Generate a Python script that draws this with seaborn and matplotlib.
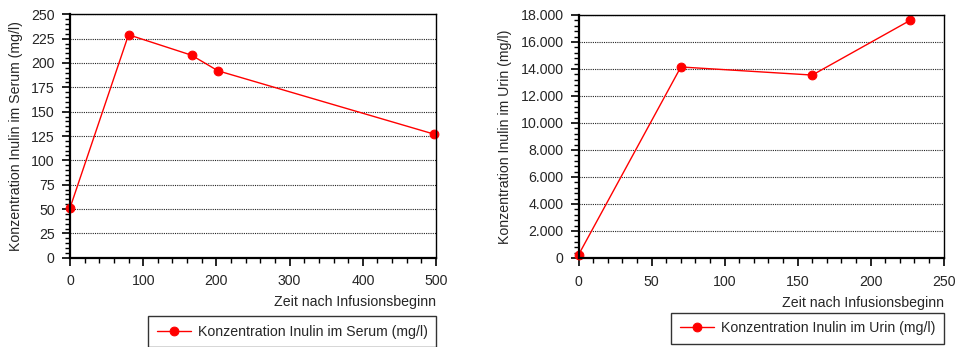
import numpy as np
import pandas as pd
import matplotlib
matplotlib.use("Agg")
import matplotlib.pyplot as plt
import matplotlib.ticker as mticker
import seaborn as sns

# serum data
serum_zeit = [0, 80, 166, 202, 497]
serum_konz = [51, 229, 208, 192, 127]
# urine data
urin_zeit = [0, 70, 160, 227]
urin_konz = [250, 14150, 13550, 17600]

serum_label = "Konzentration Inulin im Serum (mg/l)"
urin_label = "Konzentration Inulin im Urin (mg/l)"
xlabel = "Zeit nach Infusionsbeginn"

sns.set_style("white")
plt.rcParams['font.family'] = ['Liberation Sans', 'DejaVu Sans']
FS = 10.2
plt.rcParams['font.size'] = FS

fig = plt.figure(figsize=(9.56, 3.47), dpi=100)
ax1 = fig.add_axes([0.0732, 0.2573, 0.3829, 0.7015])
ax2 = fig.add_axes([0.6053, 0.2565, 0.3818, 0.7003])

df1 = pd.DataFrame({"x": serum_zeit, "y": serum_konz})
df2 = pd.DataFrame({"x": urin_zeit, "y": urin_konz})

def style(ax, xmax, xmaj, xmin, ymax, ymaj, ymin, fmt, ylab, leg_top):
    ax.set_xlim(0, xmax)
    ax.set_ylim(0, ymax)
    ax.xaxis.set_major_locator(mticker.MultipleLocator(xmaj))
    ax.xaxis.set_minor_locator(mticker.MultipleLocator(xmin))
    ax.yaxis.set_major_locator(mticker.MultipleLocator(ymaj))
    ax.yaxis.set_minor_locator(mticker.MultipleLocator(ymin))
    ax.yaxis.set_major_formatter(fmt)
    ax.tick_params(axis='both', which='major', direction='out', length=6, width=1.2,
                   color='black', labelsize=FS, pad=5, bottom=True, left=True)
    ax.tick_params(axis='both', which='minor', direction='out', length=3.5, width=1.0,
                   color='black', bottom=True, left=True)
    ax.tick_params(axis='x', which='major', pad=6)
    ax.grid(axis='y', which='major', linestyle=(0, (1, 1)), color='#222222', linewidth=0.8)
    ax.grid(axis='x', visible=False)
    for s in ax.spines.values():
        s.set_color('black')
    ax.spines['left'].set_linewidth(1.6)
    ax.spines['bottom'].set_linewidth(1.6)
    ax.spines['top'].set_linewidth(1.0)
    ax.spines['right'].set_linewidth(1.0)
    ax.set_xlabel(xlabel, loc='right', fontsize=FS, labelpad=5)
    ax.set_ylabel(ylab, fontsize=FS, labelpad=6)
    leg = ax.legend(loc='upper right', bbox_to_anchor=(1.0, leg_top), frameon=True,
                    fancybox=False, edgecolor='black', fontsize=FS,
                    borderpad=0.6, handlelength=2.4, handletextpad=0.5,
                    borderaxespad=0)
    leg.get_frame().set_linewidth(1.0)

sns.lineplot(data=df1, x="x", y="y", ax=ax1, color='#ff0000', linewidth=1.0,
             marker='o', markersize=6.3, markeredgecolor='#ff0000', label=serum_label)
sns.lineplot(data=df2, x="x", y="y", ax=ax2, color='#ff0000', linewidth=1.0,
             marker='o', markersize=6.3, markeredgecolor='#ff0000', label=urin_label)

style(ax1, 500, 100, 20, 250, 25, 5, mticker.FuncFormatter(lambda v, p: f"{int(v)}"),
      serum_label, -0.24)
de = mticker.FuncFormatter(lambda v, p: f"{int(v):,}".replace(",", "."))
style(ax2, 250, 50, 10, 18000, 2000, 400, de, urin_label, -0.226)

for a in (ax1, ax2):
    for l in a.lines:
        l.set_clip_on(False)

fig.savefig("out.png", dpi=100)
